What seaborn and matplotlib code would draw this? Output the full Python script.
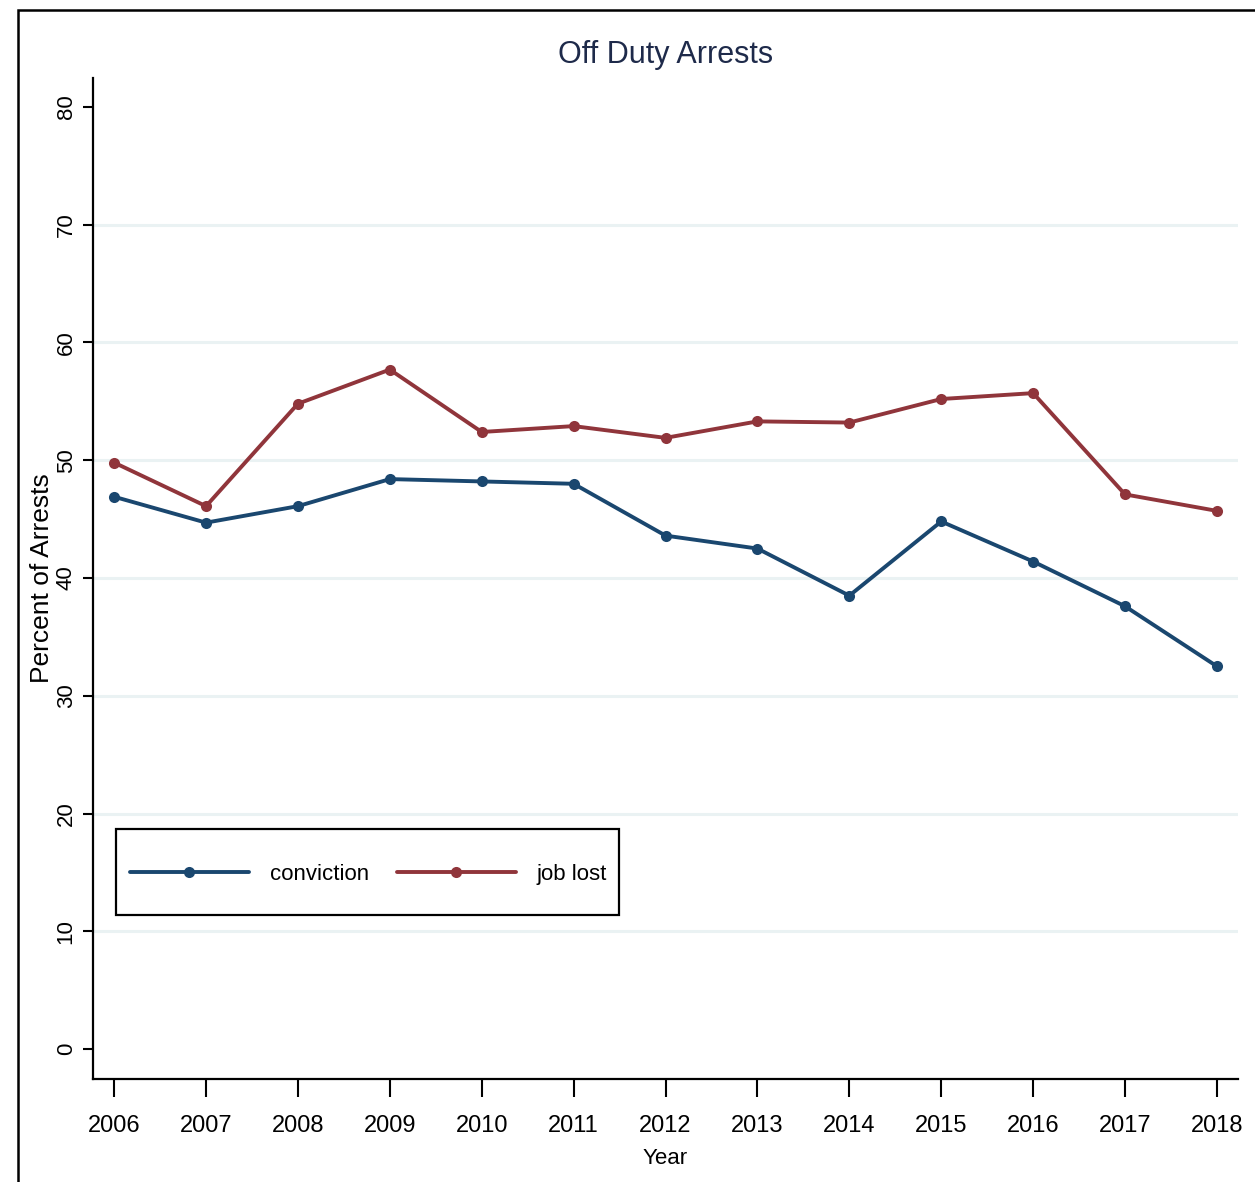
import numpy as np
import pandas as pd
import matplotlib
matplotlib.use("Agg")
import matplotlib.pyplot as plt
from matplotlib.patches import Rectangle
import seaborn as sns

# ── Dados ─────────────────────────────────────────────────────────────────────
anos = [2006, 2007, 2008, 2009, 2010, 2011, 2012, 2013, 2014, 2015, 2016, 2017, 2018]
conviction = [46.9, 44.7, 46.1, 48.4, 48.2, 48.0, 43.6, 42.5, 38.5, 44.8, 41.4, 37.6, 32.5]
job_lost = [49.8, 46.1, 54.8, 57.7, 52.4, 52.9, 51.9, 53.3, 53.2, 55.2, 55.7, 47.1, 45.7]
yticks = [0, 10, 20, 30, 40, 50, 60, 70, 80]
grid_vals = [10, 20, 30, 40, 50, 60, 70]

NAVY = "#1a476f"
MAROON = "#90353b"
GRID = "#eaf2f3"
FONTE = ["Liberation Sans Narrow", "Liberation Sans", "DejaVu Sans"]

sns.set_theme(style="white")
plt.rcParams["font.family"] = FONTE
plt.rcParams["text.color"] = "black"

df = pd.DataFrame({"ano": anos, "conviction": conviction, "job lost": job_lost})

fig = plt.figure(figsize=(12.55, 11.82), dpi=100)
ax = fig.add_axes([0.0741, 0.0871, 0.9124, 0.8469])

# linhas de grade (sem 0 e 80, estilo Stata)
for g in grid_vals:
    ax.axhline(g, color=GRID, lw=2.2, zorder=0)

sns.lineplot(data=df, x="ano", y="conviction", color=NAVY, marker="o",
             markersize=8, markeredgewidth=0, lw=2.8, label="conviction", ax=ax)
sns.lineplot(data=df, x="ano", y="job lost", color=MAROON, marker="o",
             markersize=8, markeredgewidth=0, lw=2.8, label="job lost", ax=ax)

ax.set_xlim(2005.77, 2018.23)
ax.set_ylim(-2.55, 82.46)
ax.set_xticks(anos)
ax.set_xticklabels([str(a) for a in anos], fontsize=17)
ax.set_yticks(yticks)
ax.set_yticklabels([str(v) for v in yticks], rotation=90, va="center",
                   fontsize=16)

ax.tick_params(axis="x", bottom=True, length=13, width=1.5, color="black",
               labelcolor="black", pad=13)
ax.tick_params(axis="y", left=True, length=7.2, width=1.5, color="black",
               labelcolor="black", pad=4.5)

for lado in ["top", "right"]:
    ax.spines[lado].set_visible(False)
for lado in ["left", "bottom"]:
    ax.spines[lado].set_color("black")
    ax.spines[lado].set_linewidth(1.6)

ax.set_xlabel("Year", fontsize=16, labelpad=8, color="black")
ax.set_ylabel("Percent of Arrests", fontsize=19, labelpad=1, color="black")
ax.set_title("Off Duty Arrests", fontsize=22, color="#1e2a4a", pad=11)

# legenda sem moldura; a caixa vem de um retangulo proprio
caixa = (0.0201, 0.1638, 0.4393, 0.0859)
leg = ax.legend(loc="center left", bbox_to_anchor=(caixa[0], caixa[1] + caixa[3] / 2 - 0.002),
                ncol=2, frameon=False, prop={"size": 16}, handlelength=5.35,
                handletextpad=0.95, columnspacing=1.25, borderpad=0.63,
                borderaxespad=0)
for t in leg.get_texts():
    t.set_color("black")
ax.add_patch(Rectangle(caixa[:2], caixa[2], caixa[3], transform=ax.transAxes,
                       fill=False, edgecolor="black", lw=1.6, zorder=5))

# moldura externa do grafico
fig.add_artist(Rectangle((0.0143, -0.05), 1.2, 0.9915 + 0.05,
                         transform=fig.transFigure, fill=False,
                         edgecolor="black", lw=1.8))

fig.savefig("out.png", dpi=100)
